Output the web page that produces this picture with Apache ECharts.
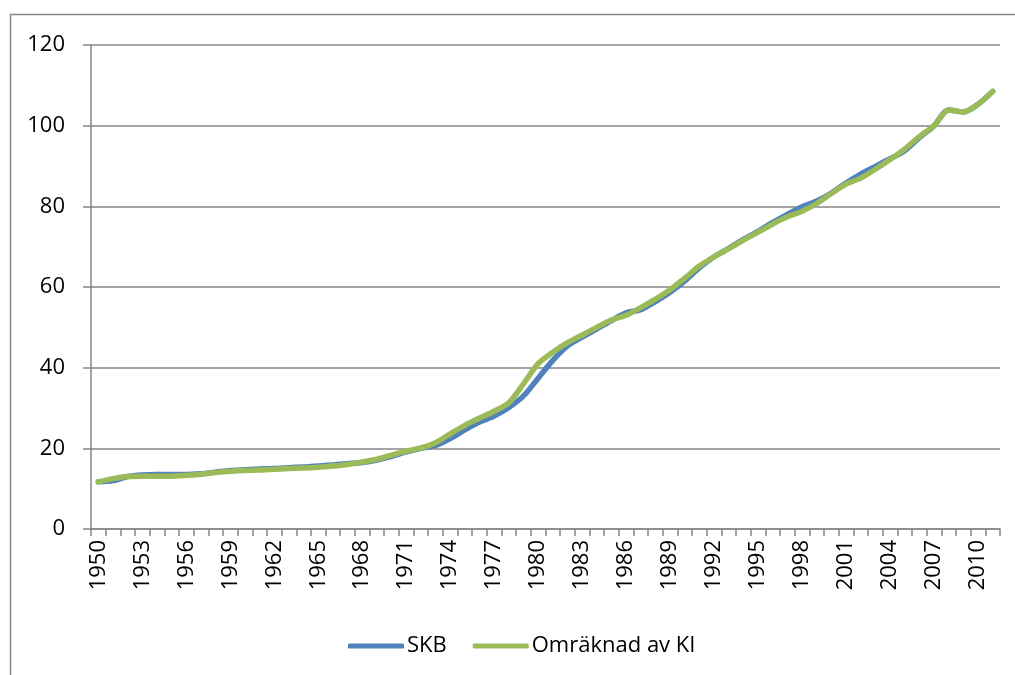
<!DOCTYPE html>
<html>
<head>
<meta charset="utf-8">
<script src="https://cdn.jsdelivr.net/npm/echarts@6/dist/echarts.min.js"></script>
<style>
  html, body { margin: 0; padding: 0; background: #fff; }
  #chart { width: 1015px; height: 675px; }
</style>
</head>
<body>
<div id="chart"></div>
<script>
const years = [];
for (let y = 1950; y <= 2011; y++) years.push(String(y));

const skb = [
  11.7, 12.0, 13.0, 13.4, 13.5, 13.5, 13.5, 13.7, 14.1, 14.5,
  14.7, 14.9, 15.0, 15.2, 15.4, 15.6, 15.9, 16.2, 16.5, 17.1,
  18.0, 19.1, 20.0, 20.7, 22.4, 24.6, 26.5, 28.0, 30.1, 33.0,
  37.4, 41.8, 45.4, 47.6, 49.6, 51.7, 53.6, 54.4, 56.4, 58.7,
  61.5, 64.8, 67.5, 69.6, 71.8, 73.8, 76.0, 78.0, 79.9, 81.3,
  83.3, 85.8, 88.0, 89.9, 91.8, 93.8, 97.0, 100.0, 103.9, 103.4,
  105.3, 108.5
];

const omraknad = [
  11.7, 12.5, 13.0, 13.1, 13.1, 13.1, 13.3, 13.6, 14.0, 14.3,
  14.5, 14.6, 14.8, 15.0, 15.1, 15.3, 15.6, 16.0, 16.6, 17.3,
  18.3, 19.3, 20.1, 21.4, 23.6, 25.7, 27.5, 29.2, 31.3, 36.0,
  41.0, 43.8, 46.2, 48.1, 50.0, 51.8, 53.0, 54.9, 57.0, 59.3,
  62.2, 65.2, 67.5, 69.5, 71.6, 73.6, 75.6, 77.4, 78.8, 80.7,
  83.2, 85.5, 87.0, 89.2, 91.6, 94.2, 97.3, 100.0, 103.9, 103.4,
  105.3, 108.5
];

const chart = echarts.init(document.getElementById('chart'));
const gray = '#868686';
const font = 'Open Sans, Liberation Sans, sans-serif';

chart.setOption({
  animation: false,
  backgroundColor: '#fff',
  graphic: [{
    type: 'rect',
    left: 8, top: 12,
    shape: { width: 1030, height: 700 },
    style: { fill: 'none', stroke: gray, lineWidth: 1.5 },
    silent: true
  }],
  grid: { left: 91, right: 15, top: 45, bottom: 146 },
  legend: {
    top: 630,
    left: 343,
    itemWidth: 56,
    itemHeight: 5,
    itemGap: 26,
    icon: 'roundRect',
    textStyle: { fontFamily: font, fontSize: 22, color: '#000', padding: [0, 0, 0, -2] },
    data: ['SKB', 'Omräknad av KI']
  },
  xAxis: {
    type: 'category',
    data: years,
    boundaryGap: true,
    axisLine: { lineStyle: { color: gray, width: 1.5 } },
    axisTick: { show: true, interval: 0, length: 7, lineStyle: { color: gray, width: 1.5 } },
    axisLabel: {
      interval: 2,
      rotate: 90,
      margin: 11,
      fontFamily: font,
      fontSize: 22,
      color: '#000'
    },
    splitLine: { show: false }
  },
  yAxis: {
    type: 'value',
    min: 0, max: 120, interval: 20,
    axisLine: { show: true, lineStyle: { color: gray, width: 1.5 } },
    axisTick: { show: true, length: 8, lineStyle: { color: gray, width: 1.5 } },
    axisLabel: { margin: 26, fontFamily: font, fontSize: 22, color: '#000' },
    splitLine: { lineStyle: { color: gray, width: 1.5 } }
  },
  series: [
    {
      name: 'SKB',
      type: 'line',
      data: skb,
      smooth: 0.3,
      showSymbol: false,
      symbol: 'none',
      lineStyle: { color: '#4F81BD', width: 5.5, cap: 'round' },
      itemStyle: { color: '#4F81BD' }
    },
    {
      name: 'Omräknad av KI',
      type: 'line',
      data: omraknad,
      smooth: 0.3,
      showSymbol: false,
      symbol: 'none',
      lineStyle: { color: '#9BBB59', width: 5.5, cap: 'round' },
      itemStyle: { color: '#9BBB59' }
    }
  ]
});
</script>
</body>
</html>
